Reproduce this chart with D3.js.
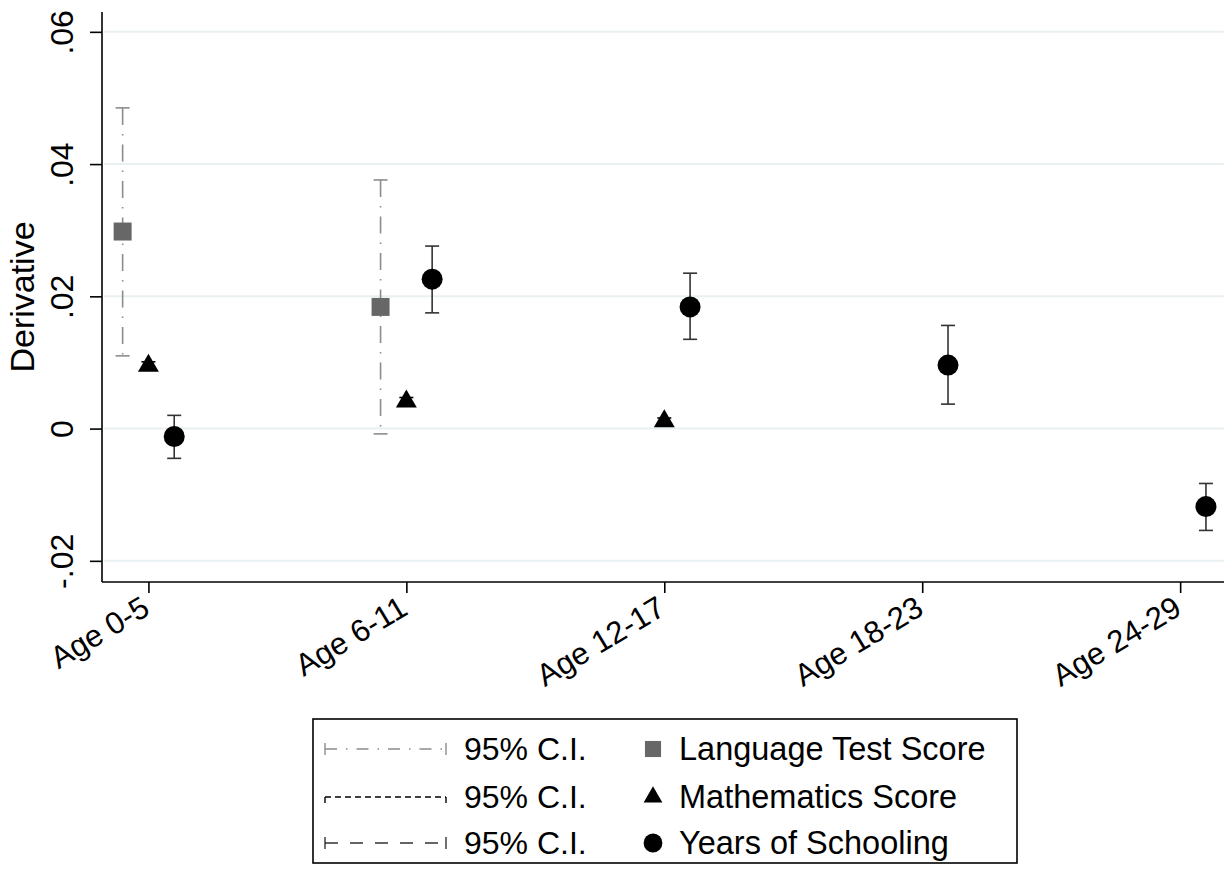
<!DOCTYPE html>
<html>
<head>
<meta charset="utf-8">
<script src="https://cdn.jsdelivr.net/npm/d3@7"></script>
<style>
  body { margin: 0; background: #fff; }
  text { font-family: Arial, "Liberation Sans", sans-serif; fill: #000; }
</style>
</head>
<body>
<svg id="chart"></svg>
<script>
var width = 1224;
var height = 869;
var margin = { top: 12, right: 0, bottom: 287, left: 102 };

// data
var categories = ["Age 0-5", "Age 6-11", "Age 12-17", "Age 18-23", "Age 24-29"];
var yTicks = [-0.02, 0, 0.02, 0.04, 0.06];
var yTickLabels = ["-.02", "0", ".02", ".04", ".06"];

var langEst = [0.0298, 0.0184, null, null, null];
var langLo  = [0.0110, -0.0008, null, null, null];
var langHi  = [0.0485, 0.0376, null, null, null];

var mathEst = [0.0095, 0.0041, 0.0011, null, null];
var mathLo  = [0.0090, 0.0036, 0.0007, null, null];
var mathHi  = [0.0101, 0.0047, 0.0016, null, null];

var schoolEst = [-0.0012, 0.0226, 0.0184, 0.0096, -0.0118];
var schoolLo  = [-0.0045, 0.0175, 0.0135, 0.0037, -0.0154];
var schoolHi  = [0.0020, 0.0276, 0.0235, 0.0156, -0.0083];

var legendNames = ["Language Test Score", "Mathematics Score", "Years of Schooling"];

var xScale = d3.scaleLinear().domain([0.82, 5.17]).range([margin.left, width - margin.right]);
var yScale = d3.scaleLinear().domain([-0.0232, 0.0630]).range([height - margin.bottom, margin.top]);

var svg = d3.select("#chart")
            .attr("width", width)
            .attr("height", height);

// gridlines
svg.append("g")
  .selectAll("line")
  .data(yTicks)
  .enter().append("line")
    .attr("x1", margin.left + 2)
    .attr("x2", width)
    .attr("y1", function(d) { return yScale(d); })
    .attr("y2", function(d) { return yScale(d); })
    .attr("stroke", "#e8f0f2")
    .attr("stroke-width", 2);

// y axis
var yAxis = svg.append("g")
    .attr("transform", "translate(" + margin.left + ",0)")
    .call(d3.axisLeft(yScale).tickValues(yTicks).tickSize(12)
      .tickFormat(function(d, i) { return yTickLabels[i]; }));
yAxis.select(".domain").attr("d", "M0," + margin.top + "V" + (height - margin.bottom)).attr("stroke-width", 1.6);
yAxis.selectAll(".tick line").attr("stroke-width", 1.6);
yAxis.selectAll(".tick text")
    .attr("font-size", 32)
    .attr("x", 0)
    .attr("y", 0)
    .attr("dy", 0)
    .attr("text-anchor", "middle")
    .attr("transform", "translate(-29,0) rotate(-90)");

// x axis
var xAxis = svg.append("g")
    .attr("transform", "translate(0," + (height - margin.bottom) + ")")
    .call(d3.axisBottom(xScale).tickValues([1, 2, 3, 4, 5]).tickSize(11)
      .tickFormat(function(d) { return categories[d - 1]; }));
xAxis.select(".domain").attr("d", "M" + margin.left + ",0H" + width).attr("stroke-width", 1.6);
xAxis.selectAll(".tick line").attr("stroke-width", 1.6);
xAxis.selectAll(".tick text")
    .attr("font-size", 31)
    .attr("text-anchor", "end")
    .attr("x", 3)
    .attr("y", 0)
    .attr("dy", 0)
    .attr("transform", "translate(0,33) rotate(-31)");

// y title
svg.append("text")
    .attr("transform", "rotate(-90)")
    .attr("x", -(margin.top + (height - margin.bottom)) / 2)
    .attr("y", 34)
    .attr("text-anchor", "middle")
    .attr("font-size", 34)
    .text("Derivative");

var series = [
  { est: langEst, lo: langLo, hi: langHi, off: -0.1, ci: "#8c8c8c", dash: "17,9,1.5,9", sym: d3.symbolSquare, size: 324, fill: "#676767" },
  { est: mathEst, lo: mathLo, hi: mathHi, off: 0, ci: "#000", dash: "5,4", sym: d3.symbolTriangle, size: 190, fill: "#000" },
  { est: schoolEst, lo: schoolLo, hi: schoolHi, off: 0.1, ci: "#333", dash: null, sym: d3.symbolCircle, size: 346, fill: "#000" }
];

series.forEach(function(s) {
  var pts = categories.map(function(c, i) {
    return { x: i + 1 + s.off, est: s.est[i], lo: s.lo[i], hi: s.hi[i] };
  }).filter(function(d) { return d.est !== null; });

  var g = svg.append("g");
  g.selectAll(".ci")
    .data(pts)
    .enter().append("path")
      .attr("fill", "none")
      .attr("stroke", s.ci)
      .attr("stroke-width", 1.6)
      .attr("stroke-dasharray", s.dash)
      .attr("d", function(d) {
        return "M" + xScale(d.x) + "," + yScale(d.hi) + "V" + yScale(d.lo);
      });
  g.selectAll(".cap")
    .data(pts.reduce(function(a, d) { return a.concat([{ x: d.x, v: d.lo }, { x: d.x, v: d.hi }]); }, []))
    .enter().append("line")
      .attr("stroke", s.ci)
      .attr("stroke-width", 1.6)
      .attr("x1", function(d) { return xScale(d.x) - 7; })
      .attr("x2", function(d) { return xScale(d.x) + 7; })
      .attr("y1", function(d) { return yScale(d.v); })
      .attr("y2", function(d) { return yScale(d.v); });
  g.selectAll(".mark")
    .data(pts)
    .enter().append("path")
      .attr("d", d3.symbol().type(s.sym).size(s.size))
      .attr("fill", s.fill)
      .attr("transform", function(d) { return "translate(" + xScale(d.x) + "," + yScale(d.est) + ")"; });
});

// legend
var legend = svg.append("g");
legend.append("rect")
    .attr("x", 313).attr("y", 719)
    .attr("width", 704).attr("height", 144)
    .attr("fill", "#fff").attr("stroke", "#000").attr("stroke-width", 1.6);

var legendDash = ["12,9,1.5,9", "6,4", "13,12"];
var legendColor = ["#8c8c8c", "#000", "#333"];
var rowY = [749, 797, 843];

legendNames.forEach(function(name, i) {
  var y = rowY[i];
  legend.append("line")
      .attr("x1", 325).attr("x2", 446).attr("y1", y).attr("y2", y)
      .attr("stroke", legendColor[i]).attr("stroke-width", 1.4)
      .attr("stroke-dasharray", legendDash[i]);
  [325, 446].forEach(function(cx) {
    legend.append("line")
        .attr("x1", cx).attr("x2", cx)
        .attr("y1", i === 1 ? y : y - 6).attr("y2", y + 6)
        .attr("stroke", legendColor[i]).attr("stroke-width", 1.4);
  });
  legend.append("text")
      .attr("x", 464).attr("y", y + 11)
      .attr("font-size", 32)
      .text("95% C.I.");
  legend.append("path")
      .attr("d", d3.symbol().type(series[i].sym).size(series[i].size * 0.8))
      .attr("fill", series[i].fill)
      .attr("transform", "translate(653," + y + ")");
  legend.append("text")
      .attr("x", 679).attr("y", y + 11)
      .attr("font-size", 32.5)
      .text(name);
});
</script>
</body>
</html>
